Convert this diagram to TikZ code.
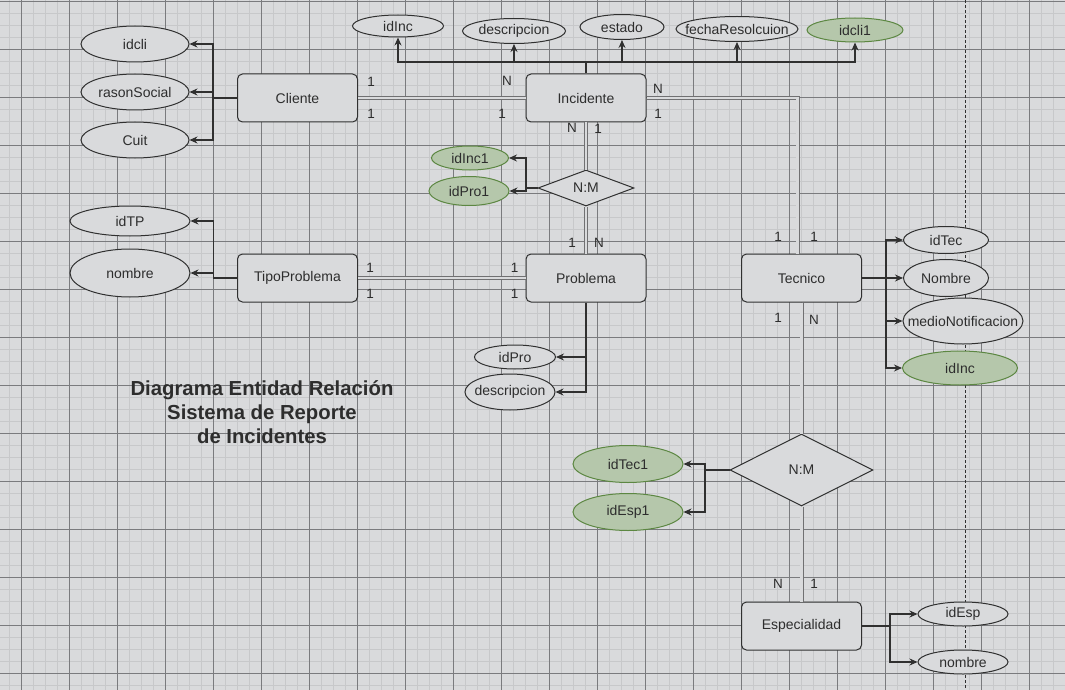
\documentclass[tikz,border=0pt]{standalone}
\usepackage{fontspec}
\setmainfont{Liberation Sans}
\usetikzlibrary{arrows.meta,shapes.geometric,calc}
\definecolor{bgCol}{RGB}{217,218,220}
\definecolor{minorCol}{RGB}{199,200,202}
\definecolor{majorCol}{RGB}{122,123,126}
\definecolor{lineCol}{RGB}{48,48,48}
\definecolor{textCol}{RGB}{45,45,45}
\definecolor{linkCol}{RGB}{112,112,114}
\definecolor{greenFill}{RGB}{181,199,171}
\definecolor{greenLine}{RGB}{92,135,66}
% text of an attribute does not widen its ellipse
\newcommand{\attrText}[1]{\makebox[0pt]{#1}}
\tikzset{%
  >={Stealth[width=7pt,length=8pt]},
  % Specifications for style of nodes:
    base/.style = {draw=lineCol, fill=bgCol, text=textCol, line width=1pt,
                   font=\fontsize{14}{16}\selectfont},
    entity/.style = {base, rectangle, rounded corners=5pt, inner sep=0pt,
                     minimum width=120pt, minimum height=48pt},
    attribute/.style = {base, ellipse, inner sep=0pt},
    keyAttribute/.style = {attribute, fill=greenFill, draw=greenLine},
    relation/.style = {base, diamond, inner sep=0pt},
    link/.style = {draw=linkCol, double=bgCol, double distance=2.6pt, line width=0.7pt},
    attrLine/.style = {draw=lineCol, line width=1.2pt, ->},
    card/.style = {text=textCol, inner sep=0pt, font=\fontsize{13.5}{15}\selectfont},
    title/.style = {text=textCol, align=center, font=\bfseries\fontsize{20.3}{24}\selectfont},
    minorGrid/.style = {draw=minorCol, line width=1.2pt},
    majorGrid/.style = {draw=majorCol, line width=0.8pt},
    pageBreak/.style = {draw=lineCol, line width=0.8pt, dash pattern=on 3pt off 2pt},
}

\begin{document}
\begin{tikzpicture}[x=1pt, y=-1pt]
  \useasboundingbox (0,0) rectangle (1065,690);
  % background grid
  \fill[bgCol] (0,0) rectangle (1065,690);
  \foreach \x in {9.5,21.5,...,1065} \draw[minorGrid] (\x,0) -- (\x,690);
  \foreach \y in {1.3,13.3,...,690} \draw[minorGrid] (0,\y) -- (1065,\y);
  \foreach \x in {21.5,69.5,...,1065} \draw[majorGrid] (\x,0) -- (\x,690);
  \foreach \y in {1.3,49.3,...,690} \draw[majorGrid] (0,\y) -- (1065,\y);
  \draw[pageBreak] (965.5,0) -- (965.5,690);

  % Specification of entities and relations
  \node (cliente)      [entity] at (297.5,98)  {Cliente};
  \node (incidente)    [entity] at (586,98)    {Incidente};
  \node (tipoProblema) [entity] at (297.5,278) {TipoProblema};
  \node (problema)     [entity] at (586,278)   {Problema};
  \node (tecnico)      [entity] at (801.5,278) {Tecnico};
  \node (especialidad) [entity] at (801.5,626) {Especialidad};

  \node (incProRel) [relation, aspect=2.67, minimum width=96pt, minimum height=36pt]
                    at (586,188) {N:M};
  \node (tecEspRel) [relation, aspect=2, minimum width=143pt, minimum height=72pt]
                    at (801.5,470) {N:M};

  % attributes
  \node (idcli)       [attribute, minimum width=108pt, minimum height=36pt] at (135,44)  {\attrText{idcli}};
  \node (rasonSocial) [attribute, minimum width=108pt, minimum height=36pt] at (135,92)  {\attrText{rasonSocial}};
  \node (cuit)        [attribute, minimum width=108pt, minimum height=36pt] at (135,140) {\attrText{Cuit}};

  \node (idInc)       [attribute, minimum width=91pt, minimum height=22pt]  at (398,26) {\attrText{idInc}};
  \node (descInc)     [attribute, minimum width=103pt, minimum height=25pt] at (514,31) {\attrText{descripcion}};
  \node (estado)      [attribute, minimum width=84pt, minimum height=25pt]  at (622,27) {\attrText{estado}};
  \node (fechaRes)    [attribute, minimum width=122pt, minimum height=25pt] at (737,29) {\attrText{fechaResolcuion}};
  \node (idcliFk)     [keyAttribute, minimum width=96pt, minimum height=24pt] at (855,30) {\attrText{idcli1}};

  \node (idIncFk)     [keyAttribute, minimum width=77pt, minimum height=24pt] at (470,158) {\attrText{idInc1}};
  \node (idProFk)     [keyAttribute, minimum width=80pt, minimum height=29pt] at (469,191) {\attrText{idPro1}};

  \node (idTP)        [attribute, minimum width=120pt, minimum height=30pt] at (130,221) {\attrText{idTP}};
  \node (nombreTP)    [attribute, minimum width=120pt, minimum height=48pt] at (130,273) {\attrText{nombre}};

  \node (idPro)       [attribute, minimum width=81pt, minimum height=24pt] at (515,357) {\attrText{idPro}};
  \node (descPro)     [attribute, minimum width=90pt, minimum height=36pt] at (510,392) {\attrText{descripcion}};

  \node (idTec)       [attribute, minimum width=85pt, minimum height=27pt]  at (946,240) {\attrText{idTec}};
  \node (nombreTec)   [attribute, minimum width=85pt, minimum height=37pt]  at (946,278) {\attrText{Nombre}};
  \node (medioNotif)  [attribute, minimum width=120pt, minimum height=46pt] at (963,321) {\attrText{medioNotificacion}};
  \node (idIncTec)    [keyAttribute, minimum width=115pt, minimum height=34pt] at (960,368) {\attrText{idInc}};

  \node (idTecFk)     [keyAttribute, minimum width=110pt, minimum height=37pt] at (628,464) {\attrText{idTec1}};
  \node (idEspFk)     [keyAttribute, minimum width=110pt, minimum height=37pt] at (628,512) {\attrText{idEsp1}};

  \node (idEsp)       [attribute, minimum width=90pt, minimum height=24pt] at (963,614) {\attrText{idEsp}};
  \node (nombreEsp)   [attribute, minimum width=90pt, minimum height=24pt] at (963,662) {\attrText{nombre}};

  \node (titulo) [title] at (262,412) {Diagrama Entidad Relación\\Sistema de Reporte\\de Incidentes};

  % cardinalities
  \foreach \txt/\px/\py [count=\i] in {1/371/82, 1/371/114, N/507/81, 1/502/114,
      N/658/89, 1/658/114, N/572/128, 1/598/129, 1/572/243, N/599/243,
      1/370/268, 1/370/294, 1/514.5/268, 1/514.5/294,
      1/778/237, 1/814/237, 1/778/318, N/814/320, N/778/584, 1/814/584}
    \node (card\i) [card] at (\px,\py) {\txt};

  % lines between entities and relations
  \draw[link] (cliente.east) -- (incidente.west);
  \draw[link] (incidente.east) -| ([xshift=-4pt]tecnico.north);
  \draw[link] (incidente.south) -- (incProRel.north);
  \draw[link] (incProRel.south) -- (problema.north);
  \draw[link] (tipoProblema.east) -- (problema.west);
  \draw[link] (tecnico.south) -- (tecEspRel.north);
  \draw[link] (tecEspRel.south) -- (especialidad.north);

  % lines to the attributes
  \coordinate (clienteBus) at (213,98);
  \draw[attrLine] (cliente.west) -- (clienteBus) |- (idcli.east);
  \draw[attrLine] (clienteBus) |- (rasonSocial.east);
  \draw[attrLine] (clienteBus) |- (cuit.east);

  \coordinate (incidenteBus) at (586,62);
  \draw[attrLine] (incidente.north) -- (incidenteBus) -| (idInc.south);
  \draw[attrLine] (incidenteBus) -| (descInc.south);
  \draw[attrLine] (incidenteBus) -| (estado.south);
  \draw[attrLine] (incidenteBus) -| (fechaRes.south);
  \draw[attrLine] (incidenteBus) -| (idcliFk.south);

  \coordinate (incProBus) at (526,188);
  \draw[attrLine] (incProRel.west) -- (incProBus) |- (idIncFk.east);
  \draw[attrLine] (incProBus) |- (idProFk.east);

  \coordinate (tipoBus) at (213.5,278);
  \draw[attrLine] (tipoProblema.west) -- (tipoBus) |- (idTP.east);
  \draw[attrLine] (tipoBus) |- (nombreTP.east);

  \draw[attrLine] (problema.south) |- (idPro.east);
  \draw[attrLine] (problema.south) |- (descPro.east);

  \coordinate (tecnicoBus) at (886,278);
  \draw[attrLine] (tecnico.east) -- (tecnicoBus) |- (idTec.west);
  \draw[attrLine] (tecnicoBus) |- (nombreTec.west);
  \draw[attrLine] (tecnicoBus) |- (medioNotif.west);
  \draw[attrLine] (tecnicoBus) |- (idIncTec.west);

  \coordinate (tecEspBus) at (705,470);
  \draw[attrLine] (tecEspRel.west) -- (tecEspBus) |- (idTecFk.east);
  \draw[attrLine] (tecEspBus) |- (idEspFk.east);

  \coordinate (especialidadBus) at (890,626);
  \draw[attrLine] (especialidad.east) -- (especialidadBus) |- (idEsp.west);
  \draw[attrLine] (especialidadBus) |- (nombreEsp.west);
\end{tikzpicture}
\end{document}
